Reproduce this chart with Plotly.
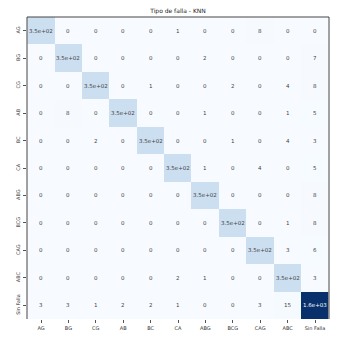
import plotly.graph_objects as go

labels = ["AG", "BG", "CG", "AB", "BC", "CA", "ABG", "BCG", "CAG", "ABC", "Sin Falla"]

row_AG = [350, 0, 0, 0, 0, 1, 0, 0, 8, 0, 0]
row_BG = [0, 350, 0, 0, 0, 0, 2, 0, 0, 0, 7]
row_CG = [0, 0, 350, 0, 1, 0, 0, 2, 0, 4, 8]
row_AB = [0, 8, 0, 350, 0, 0, 1, 0, 0, 1, 5]
row_BC = [0, 0, 2, 0, 350, 0, 0, 1, 0, 4, 3]
row_CA = [0, 0, 0, 0, 0, 350, 1, 0, 4, 0, 5]
row_ABG = [0, 0, 0, 0, 0, 0, 350, 0, 0, 0, 8]
row_BCG = [0, 0, 0, 0, 0, 0, 0, 350, 0, 1, 8]
row_CAG = [0, 0, 0, 0, 0, 0, 0, 0, 350, 3, 6]
row_ABC = [0, 0, 0, 0, 0, 2, 1, 0, 0, 350, 3]
row_SF = [3, 3, 1, 2, 2, 1, 0, 0, 3, 15, 1600]

z = [row_AG, row_BG, row_CG, row_AB, row_BC, row_CA, row_ABG, row_BCG, row_CAG, row_ABC, row_SF]

blues = [
    [0.0, "#f7fbff"], [0.125, "#deebf7"], [0.25, "#c6dbef"], [0.375, "#9ecae1"],
    [0.5, "#6baed6"], [0.625, "#4292c6"], [0.75, "#2171b5"], [0.875, "#08519c"],
    [1.0, "#08306b"],
]

zmax = max(max(r) for r in z)

fig = go.Figure(go.Heatmap(
    z=z, x=labels, y=labels, colorscale=blues, zmin=0, zmax=zmax,
    showscale=False, hoverinfo="skip",
))

annotations = []
for i, row in enumerate(z):
    for j, v in enumerate(row):
        txt = format(v, ".2g")
        color = "#ffffff" if v / zmax > 0.6 else "#444444"
        annotations.append(dict(x=labels[j], y=labels[i], text=txt, showarrow=False,
                                font=dict(size=5.5, color=color, family="DejaVu Sans")))

W, H = 336, 332
fig.update_layout(
    width=W, height=H,
    margin=dict(l=19, r=15, t=9, b=21, autoexpand=False),
    paper_bgcolor="white", plot_bgcolor="white",
    title=dict(text="Tipo de falla - KNN", x=0.5, xanchor="center", xref="paper",
               y=1 - 3 / H, yanchor="middle",
               font=dict(size=6, color="#222222", family="DejaVu Sans")),
    annotations=annotations,
    font=dict(family="DejaVu Sans", size=5, color="#333333"),
)
fig.update_xaxes(showgrid=False, zeroline=False, ticks="outside", ticklen=3, tickwidth=0.6,
                 tickcolor="#555555", tickfont=dict(size=5, color="#333333"), ticklabelstandoff=1,
                 showline=False)
fig.update_yaxes(showgrid=False, zeroline=False, ticks="outside", ticklen=3, tickwidth=0.6,
                 tickcolor="#555555", tickfont=dict(size=5, color="#333333"), tickangle=-90,
                 autorange="reversed", showline=False, ticklabelstandoff=1)

for (x0, y0, x1, y1) in [(0, 0, 0, 1), (0, 1, 1, 1), (1, 0, 1, 1)]:
    fig.add_shape(type="line", xref="paper", yref="paper", x0=x0, y0=y0, x1=x1, y1=y1,
                  line=dict(color="#444444", width=1))

fig.write_html("out.html")
